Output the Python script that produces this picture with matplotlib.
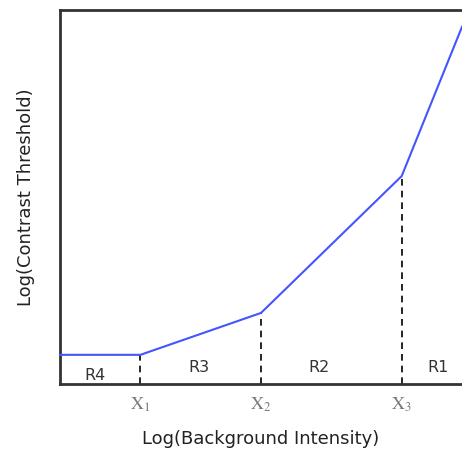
import matplotlib.pyplot as plt

plt.rcParams["mathtext.fontset"] = "stix"

# threshold-versus-intensity curve (data units, 0-100)
curve_x = [0, 20, 50, 85, 100]
curve_y = [7.8, 7.8, 19.0, 55.6, 95.5]

# breakpoints and their labels
break_x = [20, 50, 85]
break_y = [7.8, 19.0, 55.6]
tick_labels = [r"$\mathrm{X}_1$", r"$\mathrm{X}_2$", r"$\mathrm{X}_3$"]

# region labels
region_names = ["R4", "R3", "R2", "R1"]
region_x = [8.7, 34.6, 64.4, 94]
region_y = [2.4, 4.5, 4.5, 4.5]

fig = plt.figure(figsize=(4.62, 4.50), dpi=100, facecolor="white")
ax = fig.add_axes([60 / 462, 66 / 450, 402 / 462, 374 / 450])

ax.plot(curve_x, curve_y, color="#4455ff", lw=1.5, clip_on=False, zorder=3)

for bx, by in zip(break_x, break_y):
    ax.plot([bx, bx], [0, by], color="black", lw=1.2, ls=(0, (4, 3)), zorder=2)

for name, rx, ry in zip(region_names, region_x, region_y):
    ax.text(rx, ry, name, ha="center", va="center", fontsize=11.5, color="#333333")

ax.set_xlim(0, 100)
ax.set_ylim(0, 100)
ax.set_xticks(break_x)
ax.set_xticklabels(tick_labels, fontsize=13, color="#777777")
ax.tick_params(axis="x", length=0, pad=8)
ax.set_yticks([])

for side in ["left", "bottom", "top"]:
    ax.spines[side].set_linewidth(2)
    ax.spines[side].set_color("#333333")
ax.spines["right"].set_visible(False)

ax.set_xlabel("Log(Background Intensity)", fontsize=13, color="#222222", labelpad=12)
ax.set_ylabel("Log(Contrast Threshold)", fontsize=13, color="#222222", labelpad=18)

fig.savefig("out.png", dpi=100)
